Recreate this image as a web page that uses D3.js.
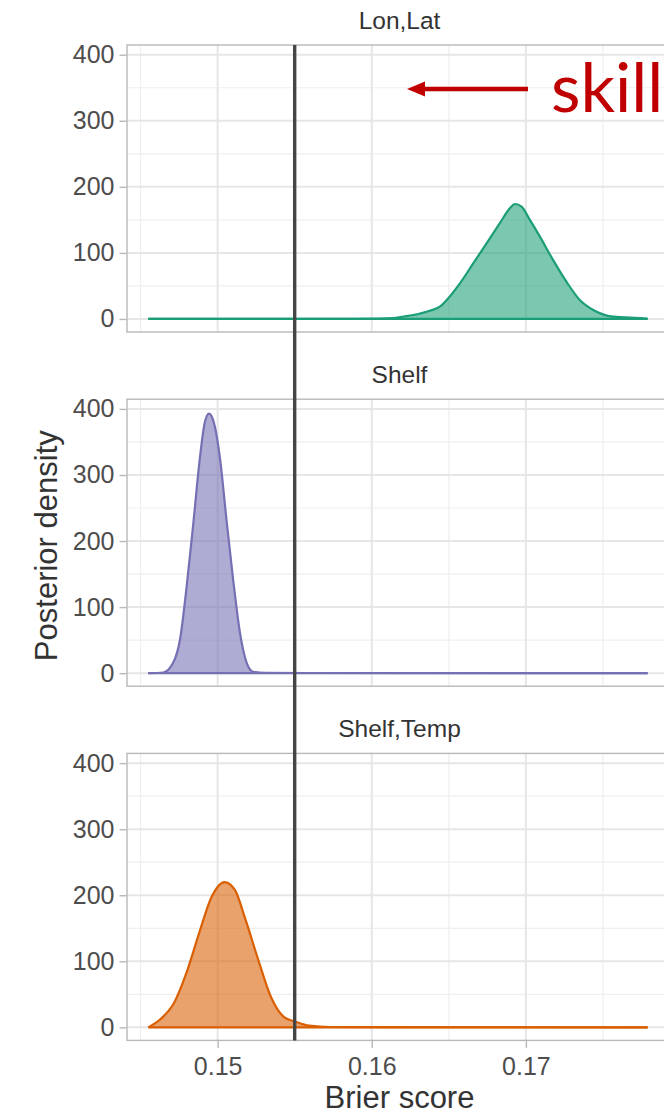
<!DOCTYPE html>
<html>
<head>
<meta charset="utf-8">
<script src="https://cdn.jsdelivr.net/npm/d3@7/dist/d3.min.js"></script>
<style>
  html, body { margin: 0; padding: 0; background: #ffffff; }
  svg { display: block; }
</style>
</head>
<body>
<div id="chart"></div>
<script>
// ---------------- data ----------------
const panels = ["Lon,Lat", "Shelf", "Shelf,Temp"];
const seriesColors = ["#1b9e77", "#7570b3", "#d95f02"];

// Brier score grid (x) and posterior density (y) per panel
const lonLatX = [0.1455, 0.158, 0.16054, 0.16269, 0.16377, 0.16442, 0.16486, 0.16572, 0.16658, 0.16745, 0.16831, 0.16896, 0.16929, 0.16972, 0.17026, 0.17091, 0.17177, 0.17264, 0.1735, 0.17437, 0.17566, 0.17783, 0.1779];
const lonLatY = [0, 0, 0.5, 6, 12.5, 18.5, 28.7, 54, 84, 114.5, 145, 167.6, 174, 170, 150, 124.6, 89, 56, 28.7, 13.5, 3.4, 0.4, 0];

const shelfX = [0.1455, 0.14647, 0.14712, 0.14756, 0.14799, 0.14842, 0.14885, 0.14918, 0.14944, 0.14971, 0.15015, 0.15058, 0.15101, 0.15145, 0.15188, 0.15231, 0.1531, 0.1779];
const shelfY = [0, 1, 16, 51, 131, 226, 326, 381, 393, 383, 326, 231, 141, 61, 16, 2, 0.3, 0];

const shelfTempX = [0.1455, 0.14632, 0.14715, 0.14797, 0.14879, 0.14962, 0.15044, 0.15112, 0.15181, 0.15264, 0.15346, 0.15429, 0.15511, 0.15593, 0.1573, 0.1779];
const shelfTempY = [0, 13, 36, 82, 142, 198, 220, 208, 163, 102, 46, 16, 8, 2.5, 0.5, 0];

const xTicks = [0.15, 0.16, 0.17];
const xMinor = [0.145, 0.155, 0.165, 0.175];
const yTicks = [0, 100, 200, 300, 400];
const yMinor = [50, 150, 250, 350];
const skillThreshold = 0.155;
const xTitle = "Brier score";
const yTitle = "Posterior density";
const noteText = "skill";

const seriesX = [lonLatX, shelfX, shelfTempX];
const seriesY = [lonLatY, shelfY, shelfTempY];

// ---------------- layout ----------------
const W = 664, H = 1114;
const panelLeft = 127, panelRight = 672;
const panelTops = [45, 399.2, 753.4];
const panelH = 287;

const svg = d3.select("#chart").append("svg")
  .attr("width", W).attr("height", H)
  .attr("viewBox", `0 0 ${W} ${H}`);

const x = d3.scaleLinear().domain([0.14412, 0.17948]).range([panelLeft, panelRight]);

const fontFam = "'Liberation Sans', Arial, Helvetica, sans-serif";

panels.forEach((name, i) => {
  const top = panelTops[i];
  const bottom = top + panelH;
  const y = d3.scaleLinear().domain([-19.75, 414.75]).range([bottom, top]);
  const g = svg.append("g");

  // panel background
  g.append("rect").attr("x", panelLeft).attr("y", top)
    .attr("width", panelRight - panelLeft).attr("height", panelH)
    .attr("fill", "#ffffff");

  // minor grid
  g.selectAll(".ymin").data(yMinor).enter().append("line")
    .attr("x1", panelLeft).attr("x2", panelRight)
    .attr("y1", d => y(d)).attr("y2", d => y(d))
    .attr("stroke", "#efefef").attr("stroke-width", 1.2);
  g.selectAll(".xmin").data(xMinor).enter().append("line")
    .attr("x1", d => x(d)).attr("x2", d => x(d))
    .attr("y1", top).attr("y2", bottom)
    .attr("stroke", "#efefef").attr("stroke-width", 1.2);
  // major grid
  g.selectAll(".ymaj").data(yTicks).enter().append("line")
    .attr("x1", panelLeft).attr("x2", panelRight)
    .attr("y1", d => y(d)).attr("y2", d => y(d))
    .attr("stroke", "#e6e6e6").attr("stroke-width", 2);
  g.selectAll(".xmaj").data(xTicks).enter().append("line")
    .attr("x1", d => x(d)).attr("x2", d => x(d))
    .attr("y1", top).attr("y2", bottom)
    .attr("stroke", "#e6e6e6").attr("stroke-width", 2);

  // density
  const pts = seriesX[i].map((v, k) => [v, seriesY[i][k]]);
  const area = d3.area().x(d => x(d[0])).y0(y(0)).y1(d => y(d[1])).curve(d3.curveMonotoneX);
  const line = d3.line().x(d => x(d[0])).y(d => y(d[1])).curve(d3.curveMonotoneX);
  g.append("path").datum(pts).attr("d", area)
    .attr("fill", seriesColors[i]).attr("fill-opacity", 0.58);
  g.append("path").datum(pts).attr("d", line)
    .attr("fill", "none").attr("stroke", seriesColors[i]).attr("stroke-width", 2.2)
    .attr("stroke-linejoin", "round");
  g.append("line")
    .attr("x1", x(seriesX[i][0])).attr("x2", x(seriesX[i][seriesX[i].length - 1]))
    .attr("y1", y(0)).attr("y2", y(0))
    .attr("stroke", seriesColors[i]).attr("stroke-width", 2.2);

  // panel border
  g.append("rect").attr("x", panelLeft).attr("y", top)
    .attr("width", panelRight - panelLeft).attr("height", panelH)
    .attr("fill", "none").attr("stroke", "#b8b8b8").attr("stroke-width", 1.4);

  // y axis
  const yAxis = d3.axisLeft(y).tickValues(yTicks).tickSize(7).tickPadding(5).tickFormat(d3.format("d"));
  const ya = svg.append("g").attr("transform", `translate(${panelLeft - 0.5},0)`).call(yAxis);
  ya.select(".domain").remove();
  ya.selectAll(".tick line").attr("stroke", "#b8b8b8").attr("stroke-width", 1.4);
  ya.selectAll(".tick text").attr("fill", "#4d4d4d")
    .style("font-family", fontFam).style("font-size", "25px");

  // strip label
  svg.append("text").attr("x", (panelLeft + panelRight) / 2).attr("y", top - 16)
    .attr("text-anchor", "middle").attr("fill", "#333333")
    .style("font-family", fontFam).style("font-size", "24.5px")
    .text(name);

  if (i === panels.length - 1) {
    const xAxis = d3.axisBottom(x).tickValues(xTicks).tickSize(7).tickPadding(9).tickFormat(d3.format(".2f"));
    const xa = svg.append("g").attr("transform", `translate(0,${bottom + 0.5})`).call(xAxis);
    xa.select(".domain").remove();
    xa.selectAll(".tick line").attr("stroke", "#b8b8b8").attr("stroke-width", 1.4);
    xa.selectAll(".tick text").attr("fill", "#4d4d4d")
      .style("font-family", fontFam).style("font-size", "25px");
  }
});

// skill threshold line spanning all panels
svg.append("line")
  .attr("x1", x(skillThreshold)).attr("x2", x(skillThreshold))
  .attr("y1", panelTops[0]).attr("y2", panelTops[2] + panelH)
  .attr("stroke", "#454545").attr("stroke-width", 3.4);

// axis titles
svg.append("text").attr("x", (panelLeft + panelRight) / 2).attr("y", 1108)
  .attr("text-anchor", "middle").attr("fill", "#333333")
  .style("font-family", fontFam).style("font-size", "31px")
  .text(xTitle);
svg.append("text")
  .attr("transform", `translate(57,${(panelTops[0] + panelTops[2] + panelH) / 2 + 3}) rotate(-90)`)
  .attr("text-anchor", "middle").attr("fill", "#333333")
  .style("font-family", fontFam).style("font-size", "31px")
  .text(yTitle);

// annotation arrow + "skill"
const red = "#c00000";
const ay = 89;
svg.append("line").attr("x1", 528).attr("x2", 420).attr("y1", ay).attr("y2", ay)
  .attr("stroke", red).attr("stroke-width", 4.5);
svg.append("path")
  .attr("d", d3.line()([[407, ay], [425, ay - 7.5], [425, ay + 7.5]]) + "Z")
  .attr("fill", red);
svg.append("text").attr("x", 551).attr("y", 112)
  .attr("fill", red)
  .style("font-family", "Lato, 'Open Sans', sans-serif").style("font-size", "68px")
  .text(noteText);
</script>
</body>
</html>
